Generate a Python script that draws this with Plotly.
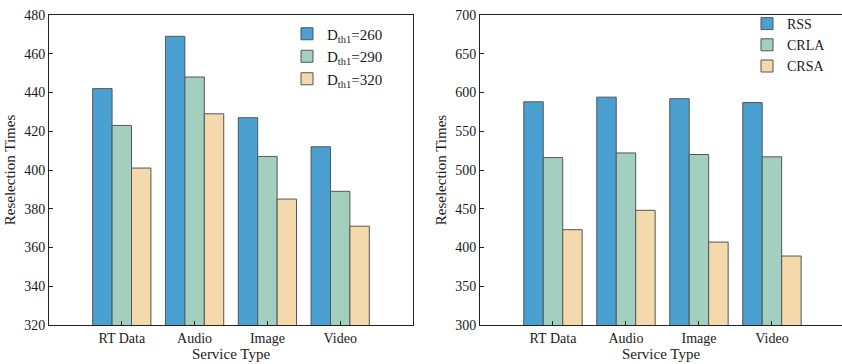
import plotly.graph_objects as go

# Service categories shared by both panels
categories = ["RT Data", "Audio", "Image", "Video"]

# Left panel: reselection times for different D_th1 thresholds
thresholds = ["D<sub>th1</sub>=260", "D<sub>th1</sub>=290", "D<sub>th1</sub>=320"]
dth_260 = [442, 469, 427, 412]
dth_290 = [423, 448, 407, 389]
dth_320 = [401, 429, 385, 371]

# Right panel: reselection times per algorithm
algorithms = ["RSS", "CRLA", "CRSA"]
rss = [588, 594, 592, 587]
crla = [516, 522, 520, 517]
crsa = [423, 448, 407, 389]

left_ticks = list(range(320, 481, 20))
right_ticks = list(range(300, 701, 50))

colors = ["#4AA0D0", "#A2CFBE", "#F4D9AD"]
edge = "#555555"
font_family = "Liberation Serif, Times New Roman, serif"
ink = "#1a1a1a"

W, H = 842, 364
top_px, bottom_px = 15, 325
y_dom = [1 - bottom_px / H, 1 - top_px / H]

fig = go.Figure()

for name, vals, c in zip(thresholds, [dth_260, dth_290, dth_320], colors):
    fig.add_trace(go.Bar(x=categories, y=vals, name=name,
                         marker=dict(color=c, line=dict(color=edge, width=1)),
                         xaxis="x", yaxis="y", legend="legend"))
for name, vals, c in zip(algorithms, [rss, crla, crsa], colors):
    fig.add_trace(go.Bar(x=categories, y=vals, name=name,
                         marker=dict(color=c, line=dict(color=edge, width=1)),
                         xaxis="x2", yaxis="y2", legend="legend2"))

axis_common = dict(showline=True, linecolor="#222222", linewidth=1, ticks="inside", ticklen=4,
                   tickcolor="#222222", showgrid=False, zeroline=False, automargin=False,
                   tickfont=dict(family=font_family, size=14, color=ink))
title_font = dict(family=font_family, size=15, color=ink)
legend_common = dict(bgcolor="rgba(0,0,0,0)", borderwidth=0, xanchor="left", yanchor="top",
                     itemwidth=30, tracegroupgap=0)

fig.update_layout(
    width=W, height=H,
    margin=dict(l=0, r=0, t=0, b=0),
    paper_bgcolor="white", plot_bgcolor="white",
    barmode="group", bargap=0.2, bargroupgap=0,
    showlegend=True,
    xaxis=dict(domain=[49 / W, 413 / W], range=[-1, 4], anchor="y", mirror=True,
               tickmode="array", tickvals=categories, ticktext=categories,
               title=dict(text="Service Type", font=title_font, standoff=2), **axis_common),
    yaxis=dict(domain=y_dom, range=[320, 480], tickvals=left_ticks, anchor="x", mirror=True,
               title=dict(text="Reselection Times", font=title_font, standoff=4), **axis_common),
    xaxis2=dict(domain=[480 / W, 1.0], range=[-1, 3.96], anchor="y2", mirror=True,
                tickmode="array", tickvals=categories, ticktext=categories,
                title=dict(text="Service Type", font=title_font, standoff=2), **axis_common),
    yaxis2=dict(domain=y_dom, range=[300, 700], tickvals=right_ticks, anchor="x2", mirror=False,
                title=dict(text="Reselection Times", font=title_font, standoff=4), **axis_common),
    legend=dict(x=287 / W, y=1 - 17.5 / H, font=dict(family=font_family, size=15, color=ink),
                **legend_common),
    legend2=dict(x=747 / W, y=1 - 8 / H, font=dict(family=font_family, size=14, color=ink),
                 **legend_common),
)

fig.write_html("out.html")
